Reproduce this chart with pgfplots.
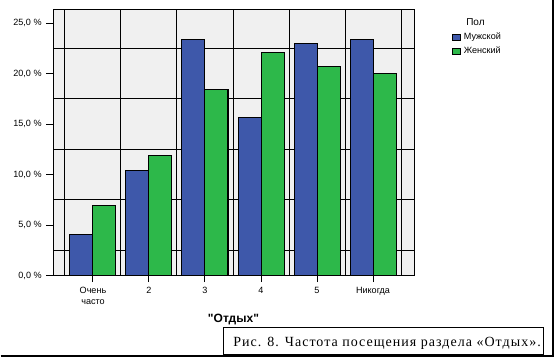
\documentclass[border=0pt]{standalone}
\usepackage{pgfplots}
\pgfplotsset{compat=1.18}
\usepackage{fontspec}
\setmainfont{Liberation Sans}
\newfontfamily\qfont{Liberation Sans}[Ligatures=ResetAll]
\newfontfamily\capfont[LetterSpace=7.3]{Liberation Serif}
\definecolor{mblue}{RGB}{62,88,170}
\definecolor{fgreen}{RGB}{45,184,74}
\definecolor{bggray}{RGB}{240,240,240}
\begin{document}
\begin{tikzpicture}
\path[use as bounding box] (0,0) rectangle (416.25pt,267.75pt);
\begin{axis}[
  at={(39.75pt,61.125pt)}, anchor=south west,
  scale only axis, width=270.75pt, height=199.125pt,
  xmin=-0.714, xmax=5.732, ymin=0, ymax=26.29,
  axis background/.style={fill=bggray},
  axis line style={line width=0.75pt},
  ybar=0pt, bar width=17.25pt,
  xtick={0,...,5}, xticklabels={{Очень\\часто},2,3,4,5,Никогда},
  ytick={0,5,...,25}, yticklabels={{0,0 \%},{5,0 \%},{10,0 \%},{15,0 \%},{20,0 \%},{25,0 \%}},
  minor xtick={-0.5,0.5,...,5.5}, minor ytick={2.5,7.5,...,22.5},
  minor grid style={black, line width=0.75pt},
  xminorgrids=true, yminorgrids=true,
  minor tick length=0pt,
  tick align=outside, major tick length=5pt,
  tick style={black, line width=0.75pt},
  xtick pos=bottom, ytick pos=left,
  ticklabel style={font=\fontsize{6.8}{8.5}\selectfont},
  xticklabel style={align=center},
  /pgf/number format/assume math mode=true,
  legend style={at={(rel axis cs:1.105,0.925)}, anchor=north west, draw=none, fill=none,
    inner sep=0pt, font=\fontsize{6.8}{8.5}\selectfont, row sep=0pt,
    cells={anchor=west}},
  legend image code/.code={\draw[#1, line width=0.75pt] (0pt,-2.1pt) rectangle (6pt,2.1pt);},
]
\addplot[fill=mblue, draw=black, line width=0.75pt] coordinates {(0,4.1) (1,10.4) (2,23.4) (3,15.6) (4,23.0) (5,23.4)};
\addplot[fill=fgreen, draw=black, line width=0.75pt] coordinates {(0,6.9) (1,11.9) (2,18.4) (3,22.1) (4,20.7) (5,20.0)};
\legend{Мужской, Женский}
\end{axis}
\node[anchor=base, font=\fontsize{7.5}{9}\selectfont, inner sep=0pt] at (356.6pt,248.25pt) {Пол};
\node[anchor=base, font=\qfont\bfseries\fontsize{9}{10}\selectfont, inner sep=0pt] at (175.1pt,26.25pt) {"Отдых"};
\draw[line width=0.9pt] (0.5pt,0.75pt) -- (414.75pt,0.75pt) -- (414.75pt,267.75pt);
\draw[line width=0.75pt] (167.25pt,1.6pt) rectangle (407.25pt,22.5pt);
\node[anchor=base west, inner sep=0pt, font=\capfont\fontsize{10.5}{12}\selectfont] at (174.75pt,8.25pt) {Рис. 8. Частота посещения раздела «Отдых».};
\end{tikzpicture}
\end{document}
